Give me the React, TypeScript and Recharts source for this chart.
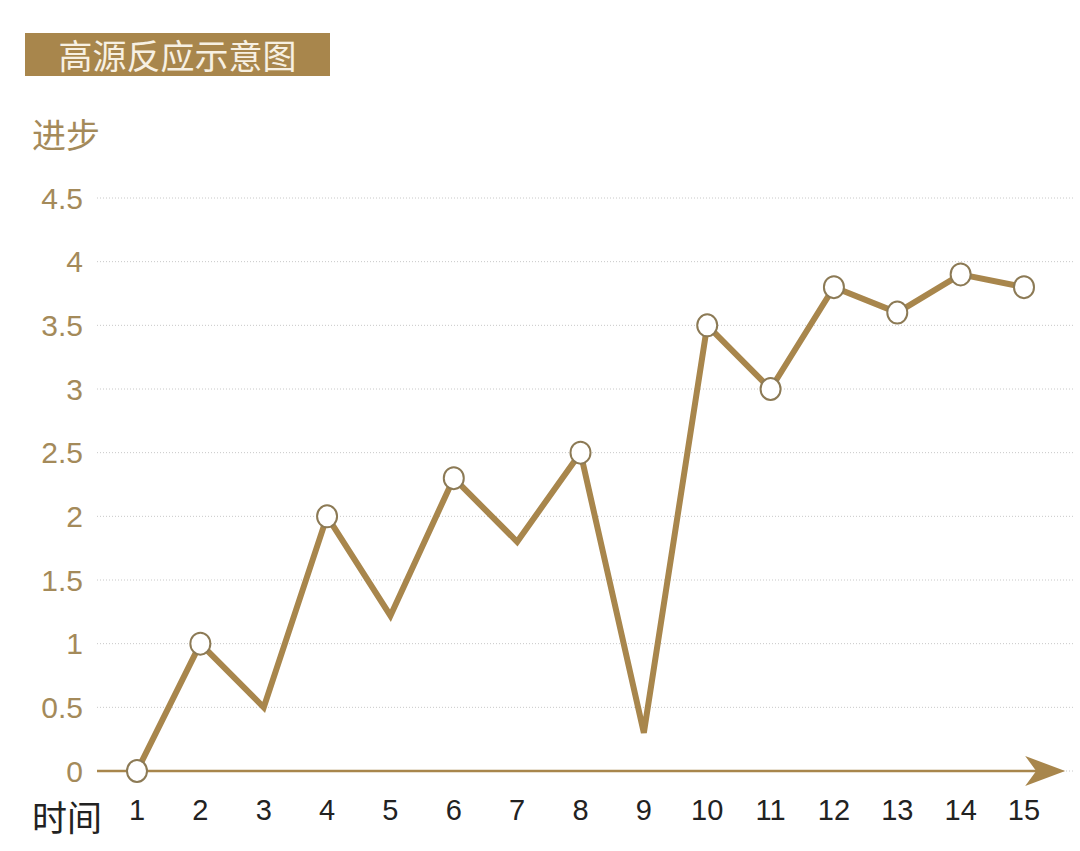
import React from "react";
import { LineChart, Line, XAxis, YAxis, CartesianGrid, ReferenceLine, ReferenceDot } from "recharts";

const times = [1, 2, 3, 4, 5, 6, 7, 8, 9, 10, 11, 12, 13, 14, 15];
const progress = [0, 1, 0.5, 2, 1.22, 2.3, 1.8, 2.5, 0.3, 3.5, 3.0, 3.8, 3.6, 3.9, 3.8];
const marked = [true, true, false, true, false, true, false, true, false, true, true, true, true, true, true];
const yTicks = [0, 0.5, 1, 1.5, 2, 2.5, 3, 3.5, 4, 4.5];

const title = "高源反应示意图";
const yName = "进步";
const xName = "时间";

const GOLD = "#a8864c";
const data = times.map((t, i) => ({ t, v: progress[i], m: marked[i] }));

const Marker = (props: any) => {
  const { cx, cy, payload, index } = props;
  if (!payload || !payload.m) return <g key={index} />;
  return <ellipse key={index} cx={cx} cy={cy} rx={10} ry={11} fill="#fff" stroke="#8c7a55" strokeWidth={2} />;
};

const Arrow = (props: any) => {
  const { cx, cy } = props;
  return <polygon points={`${cx},${cy} ${cx - 40},${cy - 15} ${cx - 29},${cy} ${cx - 40},${cy + 15}`} fill={GOLD} />;
};

const App: React.FC = () => {
  return (
    <div style={{ position: "absolute", left: 0, top: 0, width: 1080, height: 851, background: "#fff", fontFamily: "'Liberation Sans', Arial, sans-serif" }}>
      <div
        style={{
          position: "absolute",
          left: 25,
          top: 33,
          width: 305,
          height: 43,
          background: GOLD,
          color: "#f7f0e2",
          fontSize: 34,
          lineHeight: "43px",
          textAlign: "center",
          fontFamily: "'Noto Sans CJK SC', sans-serif",
        }}
      >
        {title}
      </div>
      <div style={{ position: "absolute", left: 32, top: 117, fontSize: 34, color: "#a48a5a", fontFamily: "'Noto Sans CJK SC', sans-serif", lineHeight: "34px" }}>
        {yName}
      </div>
      <div style={{ position: "absolute", left: 32, top: 798, fontSize: 35, color: "#222", fontFamily: "'Noto Sans CJK SC', sans-serif", lineHeight: "35px" }}>
        {xName}
      </div>
      <LineChart width={1080} height={851} data={data} margin={{ top: 198, right: 5, bottom: 0, left: 0 }}>
        <CartesianGrid horizontal vertical={false} stroke="#c8c8c8" strokeDasharray="1 2" />
        <XAxis
          dataKey="t"
          type="number"
          domain={[0.3687, 15.805]}
          ticks={times}
          allowDataOverflow
          axisLine={false}
          tickLine={false}
          tickSize={0}
          tickMargin={28}
          height={80}
          tick={{ fill: "#222", fontSize: 29 }}
          interval={0}
        />
        <YAxis
          type="number"
          domain={[0, 4.5]}
          ticks={yTicks}
          axisLine={false}
          tickLine={false}
          tickSize={0}
          tickMargin={14}
          width={97}
          tick={{ fill: "#a48a5a", fontSize: 30 }}
          interval={0}
        />
        <ReferenceLine segment={[{ x: 0.3687, y: 0 }, { x: 15.3, y: 0 }]} stroke={GOLD} strokeWidth={2.5} ifOverflow="visible" />
        <ReferenceDot x={15.65} y={0} r={0} shape={Arrow} ifOverflow="visible" />
        <Line
          type="linear"
          dataKey="v"
          stroke={GOLD}
          strokeWidth={6}
          dot={Marker}
          activeDot={false}
          isAnimationActive={false}
        />
      </LineChart>
    </div>
  );
};

export default App;
